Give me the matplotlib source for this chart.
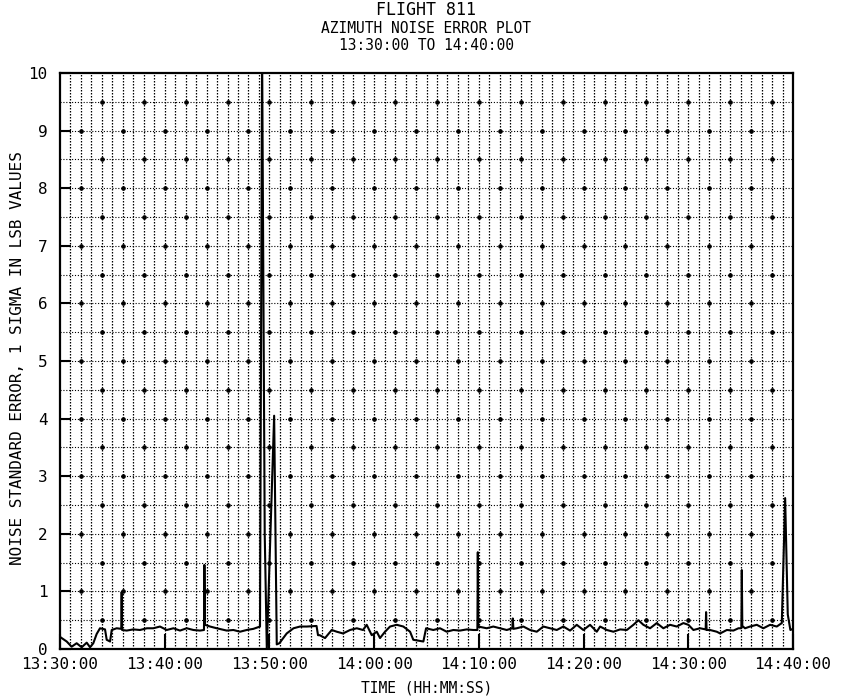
import matplotlib
matplotlib.use("Agg")
import matplotlib.pyplot as plt
import numpy as np

# ---- data (minutes after 13:30:00, sigma in LSB) ----
minutes = [0.0, 0.64, 1.11, 1.59, 2.07, 2.55, 2.87, 3.18, 3.5, 3.82, 4.3, 4.46, 4.78, 4.94,
           5.41, 5.85, 5.89, 5.93, 6.37, 7.0, 7.64, 8.3, 8.91, 9.55, 10.19, 10.83, 11.46,
           12.1, 12.74, 13.37, 13.75, 13.79, 13.85, 14.33, 14.97, 15.92, 16.56, 17.19, 17.83,
           18.47, 19.1, 19.3, 19.55, 19.75, 20.45, 20.7, 20.95, 21.65, 22.3, 22.92, 23.56,
           24.5, 24.64, 24.8, 25.31, 25.95, 26.43, 27.03, 27.7, 28.34, 28.94, 29.29, 29.77,
           30.25, 30.56, 31.04, 31.52, 32.16, 32.79, 33.43, 33.74, 34.7, 34.96, 35.65, 36.29,
           36.93, 37.56, 38.2, 38.84, 39.47, 39.86, 39.9, 39.95, 40.75, 41.38, 42.02, 42.66,
           43.2, 43.24, 43.3, 43.62, 44.25, 44.89, 45.53, 46.16, 46.8, 47.44, 48.07, 48.71,
           49.35, 49.98, 50.62, 51.26, 51.58, 52.22, 52.85, 53.49, 54.13, 54.76, 55.24, 55.71,
           56.35, 56.99, 57.62, 58.26, 58.9, 59.53, 60.01, 60.49, 61.13, 61.66, 61.7, 61.75,
           62.08, 62.72, 63.04, 63.68, 64.31, 64.79, 65.07, 65.11, 65.16, 65.42, 65.9, 66.54,
           67.17, 67.81, 68.45, 68.93, 69.25, 69.5, 69.75, 70.0]
sigma = [0.21, 0.13, 0.04, 0.10, 0.03, 0.11, 0.03, 0.10, 0.26, 0.36, 0.34, 0.16, 0.13, 0.33,
         0.36, 0.35, 0.99, 0.33, 0.32, 0.34, 0.33, 0.36, 0.36, 0.39, 0.33, 0.36, 0.32,
         0.36, 0.33, 0.32, 0.33, 1.46, 0.42, 0.39, 0.36, 0.32, 0.33, 0.30, 0.33,
         0.35, 0.39, 10.4, 2.0, 0.0, 4.05, 0.08, 0.10, 0.27, 0.36, 0.39, 0.39,
         0.40, 0.24, 0.24, 0.19, 0.33, 0.30, 0.27, 0.33, 0.36, 0.33, 0.42, 0.24,
         0.30, 0.19, 0.30, 0.39, 0.42, 0.39, 0.30, 0.16, 0.13, 0.36, 0.33, 0.36,
         0.30, 0.33, 0.32, 0.34, 0.33, 0.33, 1.68, 0.39, 0.36, 0.39, 0.36, 0.33,
         0.36, 0.53, 0.35, 0.36, 0.39, 0.33, 0.30, 0.39, 0.36, 0.33, 0.39, 0.32,
         0.42, 0.33, 0.42, 0.30, 0.39, 0.33, 0.30, 0.34, 0.33, 0.42, 0.50, 0.42,
         0.36, 0.45, 0.36, 0.42, 0.39, 0.45, 0.42, 0.33, 0.36, 0.34, 0.64, 0.33,
         0.33, 0.30, 0.27, 0.33, 0.32, 0.36, 0.36, 1.37, 0.40, 0.36, 0.39, 0.42,
         0.36, 0.42, 0.39, 0.45, 2.62, 0.60, 0.33, 0.35]

xtick_pos = [0, 10, 20, 30, 40, 50, 60, 70]
xtick_labels = ["13:30:00", "13:40:00", "13:50:00", "14:00:00",
                "14:10:00", "14:20:00", "14:30:00", "14:40:00"]
ytick_pos = [0, 1, 2, 3, 4, 5, 6, 7, 8, 9, 10]
title_lines = ["FLIGHT 811", "AZIMUTH NOISE ERROR PLOT", "13:30:00 TO 14:40:00"]
xlabel = "TIME (HH:MM:SS)"
ylabel = "NOISE STANDARD ERROR, 1 SIGMA IN LSB VALUES"

FONT = "DejaVu Sans Mono"
plt.rcParams["font.family"] = FONT

fig = plt.figure(figsize=(8.41, 7.0), dpi=100)
ax = fig.add_axes([60 / 841, 1 - 649 / 700, (793 - 60) / 841, (649 - 73) / 700])

# grid
for m in range(1, 70):
    ax.axvline(m, color="black", lw=0.9, ls=(0, (1.2, 1.2)), zorder=1)
for k in range(1, 20):
    ax.axhline(k * 0.5, color="black", lw=0.8, ls=(0, (1, 1.6)), zorder=1)
    start = 2 if k % 2 == 0 else 4
    xs = np.arange(start, 70, 4)
    ax.plot(xs, np.full_like(xs, k * 0.5, dtype=float), "o", color="black",
            ms=2.3, zorder=2)

ax.plot(minutes, sigma, color="black", lw=1.5, zorder=3)

ax.set_xlim(0, 70)
ax.set_ylim(0, 10)
ax.set_xticks(xtick_pos)
ax.set_xticklabels(xtick_labels)
ax.set_yticks(ytick_pos)
ax.set_yticklabels([str(v) for v in ytick_pos])
ax.tick_params(axis="x", direction="in", length=11, width=1.5, pad=6, labelsize=11.5)
ax.tick_params(axis="y", direction="in", length=8, width=1.5, pad=9, labelsize=11.5)
for s in ax.spines.values():
    s.set_linewidth(1.6)

fig.text(0.507, 1 - 10 / 700, title_lines[0], ha="center", va="center", fontsize=12)
fig.text(0.507, 1 - 28.5 / 700, title_lines[1], ha="center", va="center", fontsize=10.5)
fig.text(0.507, 1 - 46 / 700, title_lines[2], ha="center", va="center", fontsize=10.5)
fig.text(0.507, 0.017, xlabel, ha="center", va="center", fontsize=10.5)
fig.text(0.021, 0.488, ylabel, ha="center", va="center", rotation=90, fontsize=11.5)

fig.savefig("out.png", dpi=100)
